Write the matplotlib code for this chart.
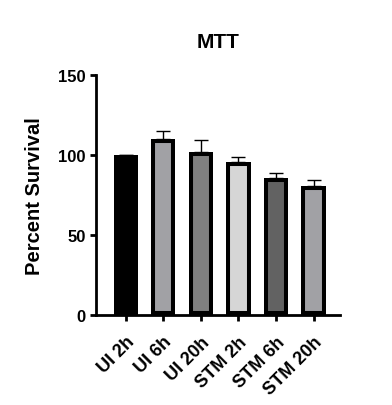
import matplotlib
matplotlib.use("Agg")
import matplotlib.pyplot as plt
import numpy as np

plt.rcParams['font.family'] = ['Liberation Sans', 'DejaVu Sans']
plt.rcParams['font.weight'] = 'bold'

categories = ["UI 2h", "UI 6h", "UI 20h", "STM 2h", "STM 6h", "STM 20h"]
values = [100, 110, 102, 95.5, 85.5, 80.5]
errors = [0, 5, 7.5, 3, 3.5, 3.8]
colors = ["#000000", "#a1a1a5", "#808080", "#d6d6d6", "#626262", "#a1a1a5"]

fig = plt.figure(figsize=(3.92, 4.06), dpi=100)
ax = fig.add_axes([0.245, 0.2217, 0.622, 0.591])

x = np.arange(len(categories))
bars = ax.bar(x, values, width=0.65, color=colors, edgecolor="black", linewidth=5.8, zorder=2)
for b in bars:
    b.set_clip_path(b)

ax.errorbar(x, values, yerr=[np.zeros(len(errors)), errors], fmt="none",
            ecolor="black", elinewidth=1.0, capsize=5, capthick=1.0, zorder=1)

ax.set_xlim(-0.79, len(categories) - 1 + 0.7)
ax.set_ylim(0, 150)
ax.set_yticks([0, 50, 100, 150])
ax.set_xticks(x)
ax.set_xticklabels(categories, rotation=45, ha="right", rotation_mode="anchor", fontsize=13, fontweight="bold")
ax.tick_params(axis="y", labelsize=12, width=2, length=4)
ax.tick_params(axis="x", width=2, length=4, pad=9)
for lbl in ax.get_yticklabels():
    lbl.set_fontweight("bold")
for s in ["top", "right"]:
    ax.spines[s].set_visible(False)
for s in ["left", "bottom"]:
    ax.spines[s].set_linewidth(2)

ax.set_ylabel("Percent Survival", fontsize=14.5, fontweight="bold", labelpad=10)
ax.set_title("MTT", fontsize=15, fontweight="bold", pad=20)

fig.savefig("out.png", dpi=100)
